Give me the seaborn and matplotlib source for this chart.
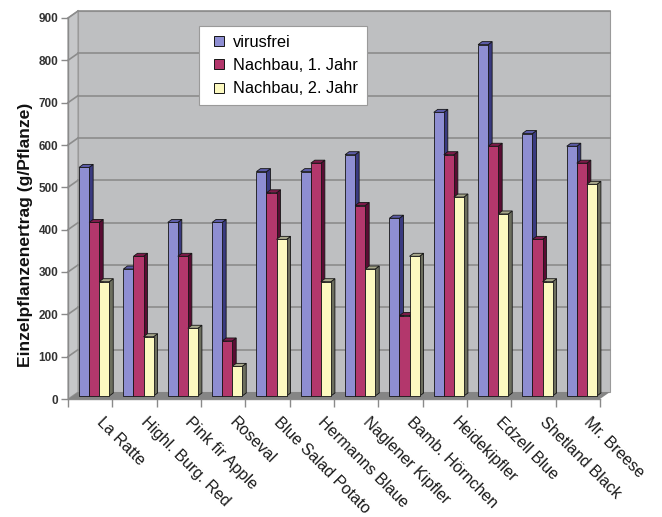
import matplotlib
matplotlib.use("Agg")
import matplotlib.pyplot as plt
import numpy as np
import pandas as pd
import seaborn as sns
from matplotlib.patches import Polygon
from matplotlib.lines import Line2D
from matplotlib.transforms import IdentityTransform, ScaledTranslation

# --- data -----------------------------------------------------------------
sorten = ["La Ratte", "Highl. Burg. Red", "Pink fir Apple", "Roseval",
          "Blue Salad Potato", "Hermanns Blaue", "Naglener Kipfler",
          "Bamb. Hörnchen", "Heidekipfler", "Edzell Blue", "Shetland Black",
          "Mr. Breese"]
virusfrei = [540, 300, 410, 410, 530, 530, 570, 420, 670, 830, 620, 590]
nachbau_1 = [410, 330, 330, 130, 480, 550, 450, 190, 570, 590, 370, 550]
nachbau_2 = [270, 140, 160, 70, 370, 270, 300, 330, 470, 430, 270, 500]
serien = ["virusfrei", "Nachbau, 1. Jahr", "Nachbau, 2. Jahr"]
y_ticks = [0, 100, 200, 300, 400, 500, 600, 700, 800, 900]

df = pd.DataFrame({
    "Sorte": sorten * 3,
    "Serie": [s for s in serien for _ in sorten],
    "Ertrag": virusfrei + nachbau_1 + nachbau_2,
})

# --- styling --------------------------------------------------------------
front_cols = ["#8E8ED2", "#B3376C", "#FCF9C0"]
side_cols = ["#3A3A80", "#5A0C33", "#6C6E5E"]
top_cols = ["#5C5CA8", "#7E1A4A", "#A9A98C"]
wall_col = "#BEBFC1"
side_wall_col = "#C6C7C9"
floor_col = "#858585"
grid_col = "#8C8C8C"
axis_col = "#8A8A8A"

plt.rcParams["font.family"] = ["Liberation Sans", "DejaVu Sans"]

DPI = 100
fig = plt.figure(figsize=(6.62, 5.17), dpi=DPI)
W, H = 662, 517
ax = fig.add_axes([68 / W, (H - 399) / H, 532 / W, 381 / H])
ax.set_facecolor("none")

sns.barplot(data=df, x="Sorte", y="Ertrag", hue="Serie", hue_order=serien,
            order=sorten, palette=front_cols, saturation=1, width=0.68,
            edgecolor="#151515", linewidth=0.6, legend=False, ax=ax)

ax.set_xlim(-0.5, len(sorten) - 0.5)
ax.set_ylim(0, 900)

# depth of the chart box (wall offset) and of the bars, in pixels
WALL_DX, WALL_DY = 10, 7
BAR_SHIFT_X, BAR_SHIFT_Y = 4, 3
BAR_DX, BAR_DY = 4, 3


def disp(points):
    return ax.transData.transform(np.asarray(points, dtype=float))


def add_poly(pts, fc, ec="none", lw=0.0, z=0):
    ax.add_patch(Polygon(pts, closed=True, facecolor=fc, edgecolor=ec,
                         linewidth=lw, transform=IdentityTransform(),
                         zorder=z, clip_on=False))


x_lo, x_hi = ax.get_xlim()
off = np.array([WALL_DX, WALL_DY])

# back wall
bl, br, tr, tl = disp([(x_lo, 0), (x_hi, 0), (x_hi, 900), (x_lo, 900)])
add_poly([bl + off, br + off, tr + off, tl + off], wall_col, ec="#9A9A9A", lw=0.8, z=0)
# left side wall
add_poly([bl, tl, tl + off, bl + off], side_wall_col, ec="#9A9A9A", lw=0.8, z=0.1)
# floor
add_poly([bl, br, br + off, bl + off], floor_col, z=0.2)

# grid lines on back wall and side wall
for v in y_ticks[1:]:
    a, b = disp([(x_lo, v), (x_hi, v)])
    ax.add_line(Line2D([a[0] + off[0], b[0] + off[0]], [a[1] + off[1], b[1] + off[1]],
                       color=grid_col, lw=1.2, transform=IdentityTransform(),
                       zorder=0.3, clip_on=False))
    ax.add_line(Line2D([a[0], a[0] + off[0]], [a[1], a[1] + off[1]],
                       color=grid_col, lw=1.2, transform=IdentityTransform(),
                       zorder=0.3, clip_on=False))

# 3D bars: shift the fronts into the box and add side and top faces
shift = ScaledTranslation(BAR_SHIFT_X / DPI, BAR_SHIFT_Y / DPI, fig.dpi_scale_trans)
bshift = np.array([BAR_SHIFT_X, BAR_SHIFT_Y])
depth = np.array([BAR_DX, BAR_DY])
for i, cont in enumerate(ax.containers):
    z = 3 + i
    for bar in cont:
        bar.set_transform(ax.transData + shift)
        bar.set_zorder(z + 0.1)
        x0, w, h = bar.get_x(), bar.get_width(), bar.get_height()
        p_bl, p_br, p_tr, p_tl = disp([(x0, 0), (x0 + w, 0), (x0 + w, h), (x0, h)]) + bshift
        add_poly([p_br, p_tr, p_tr + depth, p_br + depth], side_cols[i],
                 ec="#151515", lw=0.6, z=z)
        add_poly([p_tl, p_tr, p_tr + depth, p_tl + depth], top_cols[i],
                 ec="#151515", lw=0.6, z=z)

# axes, ticks and labels
for s in ["top", "right"]:
    ax.spines[s].set_visible(False)
for s in ["left", "bottom"]:
    ax.spines[s].set_color(axis_col)
    ax.spines[s].set_linewidth(1.0)
    ax.spines[s].set_zorder(2)

ax.set_yticks(y_ticks)
ax.set_yticklabels([str(v) for v in y_ticks])
ax.tick_params(axis="y", length=5, width=1, color=axis_col, pad=2,
               labelsize=8.5, labelcolor="#333333")
for lab in ax.get_yticklabels():
    lab.set_fontweight("bold")

ax.set_xticks(np.arange(len(sorten)))
ax.set_xticks(np.arange(len(sorten) + 1) - 0.5, minor=True)
ax.tick_params(axis="x", which="minor", length=6, width=1, color=axis_col)
ax.tick_params(axis="x", which="major", length=0, pad=11, labelsize=11.6,
               labelcolor="#1A1A1A")
label_shift = ScaledTranslation(14 / DPI, 0, fig.dpi_scale_trans)
for lab in ax.get_xticklabels():
    lab.set_rotation(-45)
    lab.set_rotation_mode("anchor")
    lab.set_ha("left")
    lab.set_va("top")
    lab.set_transform(lab.get_transform() + label_shift)

ax.set_xlabel("")
ax.set_ylabel("Einzelpflanzenertrag (g/Pflanze)", fontsize=12.6,
              fontweight="bold", color="#111111")
ax.yaxis.set_label_coords((33 - 68) / 532, (399 - 235) / 381)

# legend
handles = [Line2D([], [], linestyle="none", marker="s", markersize=7.5,
                  markerfacecolor=c, markeredgecolor="#151515",
                  markeredgewidth=0.7) for c in front_cols]
leg = ax.legend(handles, serien, loc="upper left",
                bbox_to_anchor=(199 / W, 1 - 26 / H), bbox_transform=fig.transFigure,
                borderaxespad=0, frameon=True, fancybox=False, framealpha=1,
                edgecolor="#9A9A9A", fontsize=11.8, handlelength=1.4,
                handletextpad=0.1, labelspacing=0.5, borderpad=0.55)
leg.get_frame().set_linewidth(0.8)
leg.set_zorder(10)

fig.savefig("out.png", dpi=DPI)
